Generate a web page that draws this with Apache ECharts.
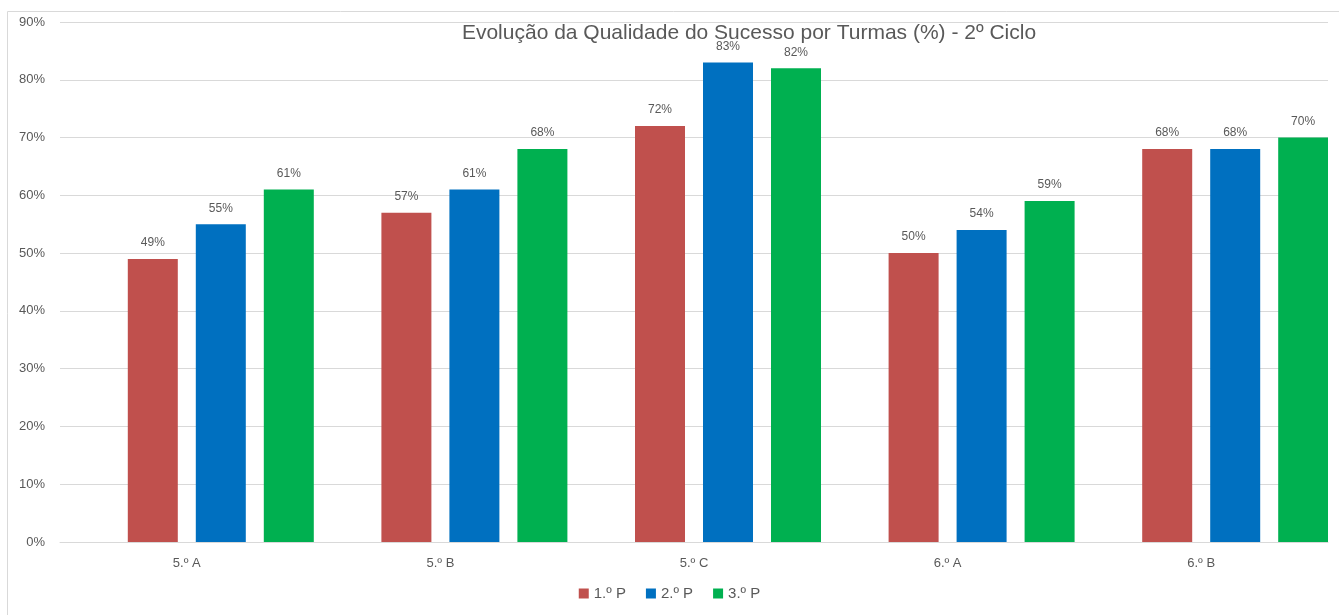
<!DOCTYPE html>
<html><head><meta charset="utf-8">
<script src="https://cdn.jsdelivr.net/npm/echarts@6/dist/echarts.min.js"></script>
<style>html,body{margin:0;padding:0;background:#fff}#c{width:1339px;height:615px}</style>
</head><body><div id="c"></div>
<script>
var categories = ['5.º A', '5.º B', '5.º C', '6.º A', '6.º B'];
var seriesNames = ['1.º P', '2.º P', '3.º P'];
var p1 = [49, 57, 72, 50, 68];
var p2 = [55, 61, 83, 54, 68];
var p3 = [61, 68, 82, 59, 70];
var emptySlot = [null, null, null, null, null];
var yTicks = [0, 10, 20, 30, 40, 50, 60, 70, 80, 90];
var colors = ['#C0504D', '#0070C0', '#00B050'];

var font = 'Liberation Sans, Arial, sans-serif';
var chart = echarts.init(document.getElementById('c'), null, {renderer: 'canvas'});
function bar(name, data, color) {
  return {
    name: name, type: 'bar', data: data, barWidth: 50, barGap: '36%',
    itemStyle: {color: color},
    label: {show: true, position: 'top', distance: 10, formatter: '{c}%', color: '#595959', fontSize: 12, fontFamily: font}
  };
}
chart.setOption({
  animation: false,
  graphic: [{type: 'rect', shape: {x: 7.5, y: 11.5, width: 1340, height: 620}, style: {fill: null, stroke: '#d9d9d9', lineWidth: 1}, silent: true}],
  title: {
    text: 'Evolução da Qualidade do Sucesso por Turmas (%) - 2º Ciclo',
    left: 744, top: 18, textAlign: 'center',
    textStyle: {color: '#595959', fontSize: 21, fontWeight: 'normal', fontFamily: font}
  },
  legend: {
    data: seriesNames, bottom: 9, left: 'center', itemWidth: 10, itemHeight: 10, itemGap: 20,
    icon: 'rect', textStyle: {color: '#595959', fontSize: 15, fontFamily: font}
  },
  grid: {left: 60, right: 11, top: 22, bottom: 73, containLabel: false},
  xAxis: {
    type: 'category', data: categories,
    axisLine: {lineStyle: {color: '#d9d9d9'}}, axisTick: {show: false},
    axisLabel: {color: '#595959', fontSize: 13, fontFamily: font, margin: 15}
  },
  yAxis: {
    type: 'value', min: yTicks[0], max: yTicks[yTicks.length - 1], interval: 10,
    axisLabel: {formatter: '{value}%', color: '#595959', fontSize: 13, fontFamily: font, margin: 15},
    splitLine: {lineStyle: {color: '#d9d9d9'}}, axisLine: {show: false}, axisTick: {show: false}
  },
  series: [
    {name: '_', type: 'bar', data: emptySlot, barWidth: 50, barGap: '36%'},
    bar(seriesNames[0], p1, colors[0]),
    bar(seriesNames[1], p2, colors[1]),
    bar(seriesNames[2], p3, colors[2])
  ]
});
</script></body></html>
